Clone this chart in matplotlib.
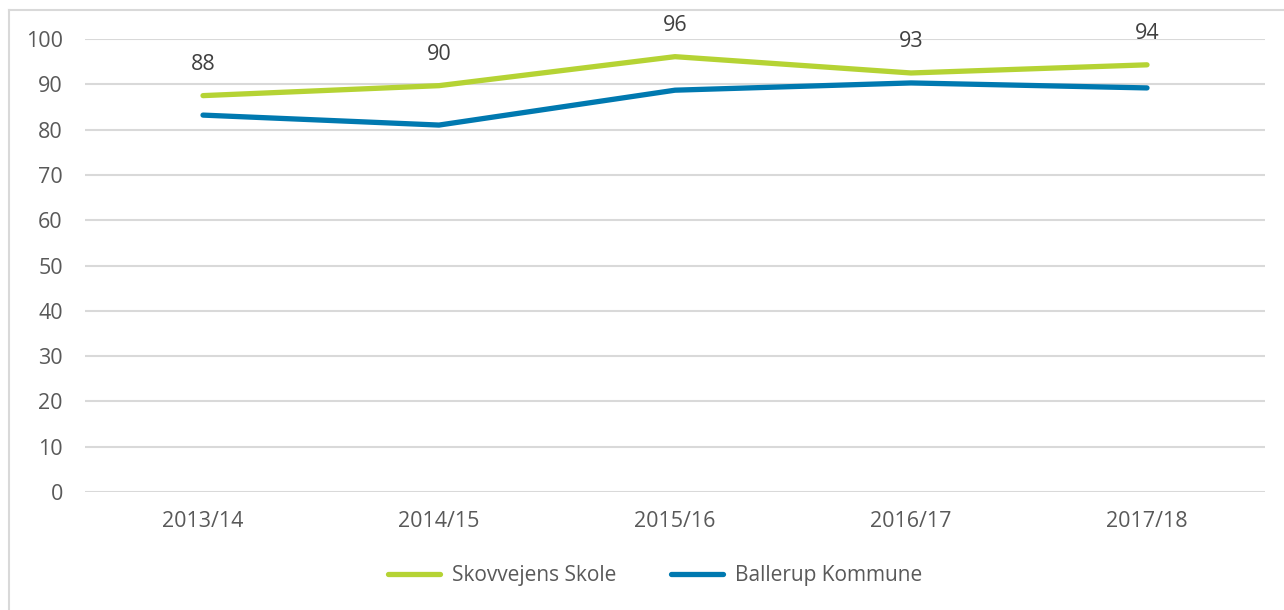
import matplotlib
matplotlib.use("Agg")
import matplotlib.pyplot as plt
from matplotlib.lines import Line2D

categories = ["2013/14", "2014/15", "2015/16", "2016/17", "2017/18"]
skole = [87.5, 89.7, 96.1, 92.5, 94.3]
skole_labels = ["88", "90", "96", "93", "94"]
kommune = [83.2, 81.0, 88.7, 90.3, 89.2]

plt.rcParams['font.family'] = ['Open Sans', 'DejaVu Sans']

W, H = 1284, 610
fig = plt.figure(figsize=(W / 100, H / 100), dpi=100)
ax = fig.add_axes([85 / W, (H - 492) / H, (1265 - 85) / W, (492 - 39) / H])

green = "#B5D334"
blue = "#0079B0"
x = list(range(len(categories)))
ax.plot(x, skole, color=green, lw=3.8, solid_capstyle="round", label="Skovvejens Skole", zorder=3)
ax.plot(x, kommune, color=blue, lw=3.8, solid_capstyle="round", label="Ballerup Kommune", zorder=3)

for xi, v, lab in zip(x, skole, skole_labels):
    ax.annotate(lab, (xi, v), xytext=(0, 22.5), textcoords="offset points",
                ha="center", va="center", fontsize=15.5, color="#404040")

ax.set_xlim(-0.5, len(categories) - 0.5)
ax.set_ylim(0, 100)
ax.set_yticks(range(0, 101, 10))
ax.set_xticks(x)
ax.set_xticklabels(categories)
ax.tick_params(axis="both", length=0, labelsize=15.5, colors="#595959")
ax.tick_params(axis="y", pad=16)
ax.tick_params(axis="x", pad=14)
ax.grid(axis="y", color="#D9D9D9", lw=1.5)
ax.set_axisbelow(True)
for s in ax.spines.values():
    s.set_visible(False)

handles = [Line2D([0], [0], color=green, lw=3.8, solid_capstyle="round"),
           Line2D([0], [0], color=blue, lw=3.8, solid_capstyle="round")]
fig.legend(handles, ["Skovvejens Skole", "Ballerup Kommune"], loc="center",
           bbox_to_anchor=(655 / W, (H - 576) / H), ncol=2, frameon=False,
           fontsize=15, labelcolor="#595959", handlelength=2.5, columnspacing=2.6,
           handletextpad=0.6)

# outer frame (cut off at right and bottom)
fig.add_artist(Line2D([9 / W, 1], [(H - 10) / H, (H - 10) / H], transform=fig.transFigure,
                      color="#D9D9D9", lw=1.5))
fig.add_artist(Line2D([9 / W, 9 / W], [0, (H - 10) / H], transform=fig.transFigure,
                      color="#D9D9D9", lw=1.5))

fig.savefig("out.png", dpi=100)
